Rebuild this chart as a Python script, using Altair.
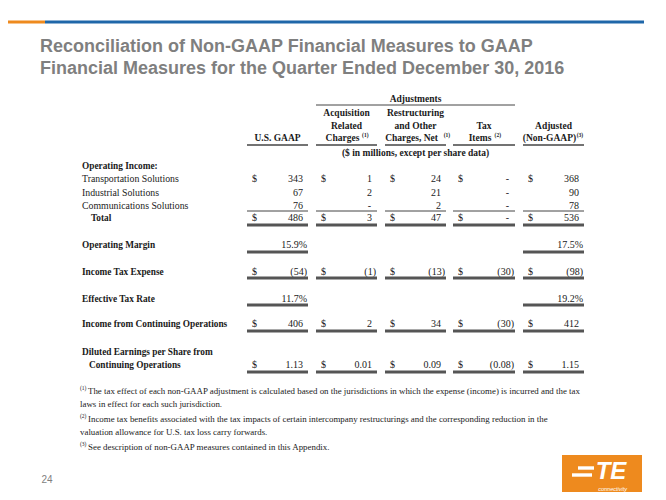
import altair as alt
import pandas as pd

# ---------------- data ----------------
title_lines = [
    "Reconciliation of Non-GAAP Financial Measures to GAAP",
    "Financial Measures for the Quarter Ended December 30, 2016",
]
group_header = "Adjustments"
col_headers = [
    ["U.S. GAAP"],
    ["Acquisition", "Related", "Charges|(1)"],
    ["Restructuring", "and Other", "Charges, Net|(1)"],
    ["Tax", "Items|(2)"],
    ["Adjusted", "(Non-GAAP)|(3)"],
]
units_note = "($ in millions, except per share data)"

section_label = "Operating Income:"
row_labels = [
    "Transportation Solutions",
    "Industrial Solutions",
    "Communications Solutions",
    "Total",
    "Operating Margin",
    "Income Tax Expense",
    "Effective Tax Rate",
    "Income from Continuing Operations",
    "Diluted Earnings per Share from|Continuing Operations",
]
transportation = [343, 1, 24, 0, 368]
industrial = [67, 2, 21, 0, 90]
communications = [76, 0, 2, 0, 78]
total = [486, 3, 47, 0, 536]
operating_margin = [15.9, None, None, None, 17.5]
income_tax_expense = [-54, -1, -13, -30, -98]
effective_tax_rate = [11.7, None, None, None, 19.2]
income_cont_ops = [406, 2, 34, -30, 412]
diluted_eps = [1.13, 0.01, 0.09, -0.08, 1.15]

footnote_marks = ["(1)", None, "(2)", None, "(3)"]
footnotes = [
    "The tax effect of each non-GAAP adjustment is calculated based on the jurisdictions in which the expense (income) is incurred and the tax",
    "laws in effect for each such jurisdiction.",
    "Income tax benefits associated with the tax impacts of certain intercompany  restructurings and the corresponding reduction in the",
    "valuation allowance for U.S. tax loss carry forwards.",
    "See description of non-GAAP measures contained in this Appendix.",
]
page_number = "24"
logo_text = "TE"
logo_sub = "connectivity"

# ---------------- layout ----------------
ORANGE = "#EE8A1E"
BLUE = "#1F67A9"
GREY = "#7F7F7F"
INK = "#1a1a1a"

col_left = [247, 316, 385, 453, 523]
col_right = [308, 377, 446, 515, 584]
label_x = 82
foot_x = 80

row_specs = [
    # values, kind, dollar, bold label, indent, y, line above, line below (width)
    (transportation, "num", True, False, 0, 179, False, None),
    (industrial, "num", False, False, 0, 193, False, None),
    (communications, "num", False, False, 0, 206, False, None),
    (total, "num", True, True, 9, 218, True, 3),
    (operating_margin, "pct", False, True, 0, 245, False, 3),
    (income_tax_expense, "num", True, True, 0, 272, False, 3),
    (effective_tax_rate, "pct", False, True, 0, 299, False, 3),
    (income_cont_ops, "num", True, True, 0, 324, False, 3),
    (diluted_eps, "eps", True, True, 0, 365, False, 3),
]
line_below_offset = {218: 7, 245: 7, 272: 6, 299: 6, 324: 7, 365: 7}


def fmt(v, kind):
    if v is None:
        return None
    if kind == "pct":
        return f"{v:.1f}%"
    if kind == "eps":
        s = f"{abs(v):.2f}"
    else:
        if v == 0:
            return "-"
        s = f"{abs(v):,.0f}"
    return f"({s})" if v < 0 else s


def approx_w(s, size):
    # rough Times bold width estimate for placing superscripts
    return len(s) * size * 0.53


texts = []
rules = []

# title
for i, t in enumerate(title_lines):
    texts.append(dict(x=40, y=47 + 22 * i, text=t, style="title"))
# top bar
rules.append(dict(x=0, x2=45, y=22, w=3, c=ORANGE))
rules.append(dict(x=45, x2=644, y=22, w=3, c=BLUE))

# headers
texts.append(dict(x=(col_left[1] + col_right[3]) / 2, y=99, text=group_header, style="hdr"))
rules.append(dict(x=col_left[1], x2=col_right[3], y=105, w=1, c="#444"))
for ci, lines in enumerate(col_headers):
    cx = (col_left[ci] + col_right[ci]) / 2
    n = len(lines)
    for li, t in enumerate(lines):
        yy = 138 - 12.3 * (n - 1 - li)
        if "|" in t:
            main, sup = t.split("|")
            texts.append(dict(x=cx - 4, y=yy, text=main, style="hdr"))
            texts.append(dict(x=cx - 4 + approx_w(main, 9.5) / 2 + 2, y=yy - 3, text=sup, style="sup"))
        else:
            texts.append(dict(x=cx, y=yy, text=t, style="hdr"))
    rules.append(dict(x=col_left[ci], x2=col_right[ci], y=145, w=1.5, c="#444"))
texts.append(dict(x=(col_left[1] + col_right[3]) / 2, y=153, text=units_note, style="hdr"))

# rows
texts.append(dict(x=label_x, y=166, text=section_label, style="label_b"))
for (vals, kind, dollar, bold, indent, y, above, below), lab in zip(row_specs, row_labels):
    parts = lab.split("|")
    st = "label_b" if bold else "label"
    if len(parts) == 2:
        texts.append(dict(x=label_x, y=y - 13, text=parts[0], style=st))
        texts.append(dict(x=label_x + 7, y=y, text=parts[1], style=st))
    else:
        texts.append(dict(x=label_x + indent, y=y, text=lab, style=st))
    for ci, v in enumerate(vals):
        s = fmt(v, kind)
        if s is None:
            continue
        closes = s.endswith(")") or s.endswith("%")
        off = 1 if closes else (6 if s == "-" else 5)
        texts.append(dict(x=col_right[ci] - off, y=y, text=s, style="num"))
        if dollar:
            texts.append(dict(x=col_left[ci] + 5, y=y, text="$", style="cell"))
        if above:
            rules.append(dict(x=col_left[ci], x2=col_right[ci], y=y - 7, w=1, c="#444"))
        if below:
            rules.append(dict(x=col_left[ci], x2=col_right[ci], y=y + line_below_offset[y], w=below, c="#555"))

# footnotes
foot_y = [391, 404, 419, 432, 447]
for i, t in enumerate(footnotes):
    if footnote_marks[i]:
        texts.append(dict(x=foot_x, y=foot_y[i] - 3, text=footnote_marks[i], style="fsup"))
        texts.append(dict(x=foot_x + 8, y=foot_y[i], text=t, style="foot"))
    else:
        texts.append(dict(x=foot_x, y=foot_y[i], text=t, style="foot"))

texts.append(dict(x=47, y=480, text=page_number, style="page"))
texts.append(dict(x=611, y=472, text=logo_text, style="logo"))
texts.append(dict(x=627, y=489, text=logo_sub, style="logo_sub"))
rules.append(dict(x=578, x2=594, y=468, w=3.4, c="white"))
rules.append(dict(x=572, x2=592, y=475, w=3.4, c="white"))

tdf = pd.DataFrame(texts)
rdf = pd.DataFrame(rules)
logo_df = pd.DataFrame([dict(x=562, x2=642, y=455, y2=500)])

W, H = 650, 484
xs = alt.Scale(domain=[8, 8 + W], range=[0, W])
ys = alt.Scale(domain=[8, 8 + H], reverse=True)
X = alt.X("x:Q", scale=xs, axis=None)
Y = alt.Y("y:Q", scale=ys, axis=None)

base = alt.Chart(tdf)

styles = {
    "title": dict(font="Liberation Sans", fontSize=18, fontWeight="bold", color=GREY, align="left"),
    "hdr": dict(font="Liberation Serif", fontSize=9.5, fontWeight="bold", color=INK, align="center"),
    "sup": dict(font="Liberation Serif", fontSize=5.5, fontWeight="bold", color=INK, align="left"),
    "label": dict(font="Liberation Serif", fontSize=9.8, color=INK, align="left"),
    "label_b": dict(font="Liberation Serif", fontSize=9.3, fontWeight="bold", color=INK, align="left"),
    "num": dict(font="Liberation Serif", fontSize=10, color=INK, align="right"),
    "cell": dict(font="Liberation Serif", fontSize=10, color=INK, align="left"),
    "foot": dict(font="Liberation Serif", fontSize=8.9, color=INK, align="left"),
    "fsup": dict(font="Liberation Serif", fontSize=5.5, color=INK, align="left"),
    "page": dict(font="Liberation Sans", fontSize=10, color=GREY, align="center"),
    "logo": dict(font="Liberation Sans", fontSize=24, fontWeight="bold", fontStyle="italic", color="white", align="center"),
    "logo_sub": dict(font="Liberation Sans", fontSize=5.5, fontStyle="italic", color="white", align="right"),
}

layers = []
logo_rect = alt.Chart(logo_df).mark_rect(color=ORANGE).encode(
    x=X, x2="x2:Q", y=Y, y2="y2:Q"
)
layers.append(logo_rect)
rule_layer = alt.Chart(rdf).mark_rule(strokeCap="butt").encode(
    x=X, x2="x2:Q", y=Y,
    strokeWidth=alt.StrokeWidth("w:Q", scale=None),
    color=alt.Color("c:N", scale=None),
)
layers.append(rule_layer)
for name, st in styles.items():
    layers.append(
        base.transform_filter(alt.datum.style == name)
        .mark_text(baseline="middle", **st)
        .encode(x=X, y=Y, text="text:N")
    )

chart = (
    alt.layer(*layers)
    .properties(width=W, height=H, padding=0, autosize=alt.AutoSizeParams(type="none"), background="white")
    .configure_view(stroke=None)
)
chart.save("out.html", embed_options={"renderer": "svg", "actions": False})
